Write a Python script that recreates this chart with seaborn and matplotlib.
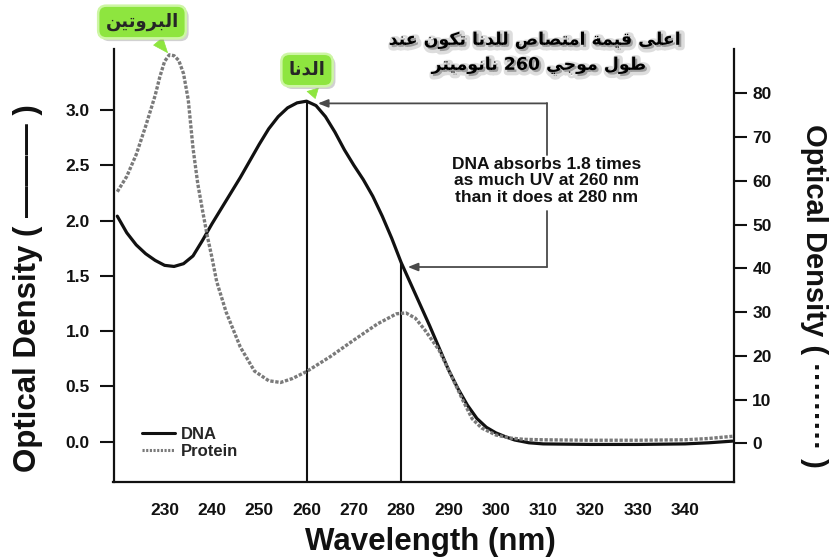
import re
import matplotlib
matplotlib.use("Agg")
import matplotlib.pyplot as plt
import matplotlib.patheffects as pe
from matplotlib.lines import Line2D
import seaborn as sns

# ---- data ---------------------------------------------------------------
dna_wavelength = [220, 222, 224, 226, 228, 230, 232, 234, 236, 238, 240, 242,
                  244, 246, 248, 250, 252, 254, 256, 258, 260, 262, 264, 266,
                  268, 270, 272, 274, 276, 278, 280, 282, 284, 286, 288, 290,
                  292, 294, 296, 298, 300, 302, 304, 307, 310, 320, 330, 340,
                  345, 350]
dna_od = [2.04, 1.89, 1.78, 1.70, 1.64, 1.595, 1.585, 1.61, 1.68, 1.82, 1.97, 2.11,
          2.25, 2.39, 2.54, 2.69, 2.83, 2.94, 3.02, 3.065, 3.08, 3.04, 2.94, 2.80,
          2.64, 2.50, 2.37, 2.22, 2.04, 1.84, 1.62, 1.43, 1.24, 1.05, 0.85, 0.65,
          0.48, 0.33, 0.21, 0.13, 0.08, 0.045, 0.015, -0.01, -0.02, -0.025, -0.025, -0.02,
          -0.01, 0.005]

protein_wavelength = [220, 222, 224, 226, 228, 229, 230, 231, 232, 233, 234, 235,
                      236, 237, 238, 239, 240, 241, 243, 246, 249, 252, 254.5, 257,
                      260, 265, 270, 275, 279, 281, 283, 285, 288, 290, 293, 295,
                      297, 300, 303, 306, 310, 320, 330, 340, 345, 350]
protein_od = [57.5, 61.0, 66.0, 72.5, 79.5, 83.8, 87.3, 88.8, 88.6, 87.5, 84.5, 78.5,
              67.5, 59.4, 53.3, 47.5, 42.5, 37.0, 30.0, 22.0, 16.5, 14.3, 13.9, 14.8,
              16.4, 19.8, 23.6, 27.3, 29.6, 29.8, 28.6, 25.9, 21.3, 16.8, 9.9, 5.6,
              3.5, 1.9, 1.2, 0.9, 0.8, 0.7, 0.7, 0.8, 1.1, 1.6]

x_ticks = [230, 240, 250, 260, 270, 280, 290, 300, 310, 320, 330, 340]
left_ticks = [0.0, 0.5, 1.0, 1.5, 2.0, 2.5, 3.0]
right_ticks = [0, 10, 20, 30, 40, 50, 60, 70, 80]
marked_wavelengths = [260, 280]

note_text = "DNA absorbs 1.8 times\nas much UV at 260 nm\nthan it does at 280 nm"
title_lines = ["اعلى قيمة امتصاص للدنا تكون عند", "طول موجي 260 نانوميتر"]
protein_tag = "البروتين"
dna_tag = "الدنا"

# ---- minimal Arabic shaping (presentation forms + visual order) --------
# letter: (isolated, final, initial, medial); None = letter does not join forward
FORMS = {
    "ا": (0xFE8D, 0xFE8E, None, None), "ب": (0xFE8F, 0xFE90, 0xFE91, 0xFE92),
    "ة": (0xFE93, 0xFE94, None, None), "ت": (0xFE95, 0xFE96, 0xFE97, 0xFE98),
    "ج": (0xFE9D, 0xFE9E, 0xFE9F, 0xFEA0), "د": (0xFEA9, 0xFEAA, None, None),
    "ر": (0xFEAD, 0xFEAE, None, None), "ص": (0xFEB9, 0xFEBA, 0xFEBB, 0xFEBC),
    "ط": (0xFEC1, 0xFEC2, 0xFEC3, 0xFEC4), "ع": (0xFEC9, 0xFECA, 0xFECB, 0xFECC),
    "ق": (0xFED5, 0xFED6, 0xFED7, 0xFED8), "ك": (0xFED9, 0xFEDA, 0xFEDB, 0xFEDC),
    "ل": (0xFEDD, 0xFEDE, 0xFEDF, 0xFEE0), "م": (0xFEE1, 0xFEE2, 0xFEE3, 0xFEE4),
    "ن": (0xFEE5, 0xFEE6, 0xFEE7, 0xFEE8), "و": (0xFEED, 0xFEEE, None, None),
    "ى": (0xFEEF, 0xFEF0, None, None), "ي": (0xFEF1, 0xFEF2, 0xFEF3, 0xFEF4),
}


def shape_arabic(text):
    out = []
    for i, ch in enumerate(text):
        if ch not in FORMS:
            out.append(ch)
            continue
        prev = text[i - 1] if i > 0 else ""
        nxt = text[i + 1] if i + 1 < len(text) else ""
        join_prev = prev in FORMS and FORMS[prev][2] is not None
        join_next = FORMS[ch][2] is not None and nxt in FORMS
        iso, fin, ini, med = FORMS[ch]
        if join_prev and join_next:
            code = med
        elif join_prev:
            code = fin
        elif join_next:
            code = ini
        else:
            code = iso
        out.append(chr(code))
    visual = "".join(out)[::-1]
    # numbers keep their left-to-right order inside right-to-left text
    return re.sub(r"[0-9]+", lambda m: m.group(0)[::-1], visual)


# ---- style ----------------------------------------------------------------
sns.set_theme(style="white")
plt.rcParams["font.family"] = ["Liberation Sans", "DejaVu Sans"]
plt.rcParams["font.weight"] = "bold"
plt.rcParams["axes.labelweight"] = "bold"

W, H = 830, 560
fig = plt.figure(figsize=(W / 100, H / 100), dpi=100)
left, right, top, bottom = 113.5, 734.3, 49.0, 481.7
ax = fig.add_axes([left / W, 1 - bottom / H, (right - left) / W, (bottom - top) / H])
ax2 = ax.twinx()

ink = "#111111"
protein_color = "#7a7a7a"
protein_ls = (0, (1.0, 0.5))

sns.lineplot(x=dna_wavelength, y=dna_od, ax=ax, color=ink, lw=2.3, legend=False)
sns.lineplot(x=protein_wavelength, y=protein_od, ax=ax2, color=protein_color,
             lw=2.4, linestyle=protein_ls, legend=False)

ax.set_xlim(219.2, 350.4)
ax.set_ylim(-0.362, 3.552)
ax2.set_ylim(-8.78, 90.13)

ax.set_xticks(x_ticks)
ax.set_xticklabels([str(t) for t in x_ticks])
ax.set_yticks(left_ticks)
ax.set_yticklabels([f"{t:.1f}" for t in left_ticks])
ax2.set_yticks(right_ticks)
ax2.set_yticklabels([str(t) for t in right_ticks])

for a in (ax, ax2):
    for s in a.spines.values():
        s.set_visible(False)
        s.set_linewidth(1.6)
        s.set_color(ink)
ax.spines["left"].set_visible(True)
ax.spines["bottom"].set_visible(True)
ax2.spines["right"].set_visible(True)

ax.tick_params(axis="x", direction="out", length=10, width=1.5, pad=5,
               labelsize=12.5, colors=ink)
ax.tick_params(axis="y", direction="out", length=10, width=1.5, pad=7,
               labelsize=12.5, colors=ink)
ax2.tick_params(axis="y", direction="out", length=9.5, width=1.5, pad=3.5,
                labelsize=12.5, colors=ink)
for lab in ax.get_xticklabels() + ax.get_yticklabels() + ax2.get_yticklabels():
    lab.set_fontweight("bold")

# ---- axis titles ------------------------------------------------------------
ax.set_xlabel("Wavelength (nm)", fontsize=22.5, fontweight="bold", color=ink)
ax.xaxis.set_label_coords((430 - left) / (right - left), (bottom - 527) / (bottom - top))
ax.xaxis.label.set_va("top")

ax.set_ylabel("Optical Density ( ——— )", fontsize=22.5, fontweight="bold", color=ink)
ax.yaxis.set_label_coords((43 - left) / (right - left), (bottom - 288) / (bottom - top))

ax2.set_ylabel("Optical Density ( ········· )", fontsize=21, fontweight="bold",
               color=ink, rotation=-90)
ax2.yaxis.label.set_va("bottom")
ax2.yaxis.set_label_coords((800 - left) / (right - left), (bottom - 296) / (bottom - top))

# ---- vertical markers at 260 and 280 nm --------------------------------------
for wl in marked_wavelengths:
    yv = dna_od[dna_wavelength.index(wl)]
    ax.vlines(wl, ax.get_ylim()[0], yv, color=ink, lw=1.5, zorder=1)

# ---- bracket annotation ---------------------------------------------------------
bx = 310.8
y260 = dna_od[dna_wavelength.index(260)] - 0.02
y280 = dna_od[dna_wavelength.index(280)] - 0.04
line_kw = dict(color="#4a4a4a", lw=1.3)
arrow_kw = dict(arrowstyle="-|>,head_length=0.5,head_width=0.2", color="#4a4a4a",
                lw=1.3, shrinkA=0, shrinkB=0)
ax.plot([bx, bx], [y260, 2.59], **line_kw)
ax.plot([bx, bx], [2.09, y280], **line_kw)
ax.annotate("", xy=(262.4, y260), xytext=(bx, y260), arrowprops=arrow_kw)
ax.annotate("", xy=(281.4, y280), xytext=(bx, y280), arrowprops=arrow_kw)
ax.text(bx, 2.36, note_text, ha="center", va="center", fontsize=12.5,
        fontweight="bold", color=ink, linespacing=1.12)

# ---- legend ------------------------------------------------------------------
handles = [Line2D([], [], color=ink, lw=2.2),
           Line2D([], [], color=protein_color, lw=2.2, linestyle=(0, (0.7, 0.5)))]
leg = ax.legend(handles, ["DNA", "Protein"], loc="center left",
                bbox_to_anchor=((142 - left) / (right - left), (bottom - 443) / (bottom - top)),
                frameon=False, fontsize=12, handlelength=2.0, handletextpad=0.35,
                labelspacing=0.12, borderpad=0, borderaxespad=0)
for t in leg.get_texts():
    t.set_fontweight("bold")

# ---- Arabic heading with soft shadow ------------------------------------------
glow = [pe.Stroke(linewidth=5, foreground="#b5b5b5", alpha=0.45, offset=(1.5, -1.5)),
        pe.Normal()]
fig.text(535 / W, 1 - 40 / H, shape_arabic(title_lines[0]), ha="center", va="center",
         fontsize=12.5, fontweight="bold", family=["DejaVu Sans"], color="black",
         path_effects=glow)
fig.text(539 / W, 1 - 65 / H, shape_arabic(title_lines[1]), ha="center", va="center",
         fontsize=12.5, fontweight="bold", family=["DejaVu Sans"], color="black",
         path_effects=glow)

# ---- green call-out tags -------------------------------------------------------
green = "#8EE53F"
tag_box = dict(boxstyle="round,pad=0.4,rounding_size=0.45", fc=green, ec="#CDF6A4", lw=1.8)
pointer = dict(arrowstyle="wedge,tail_width=0.65,shrink_factor=0.5", fc=green, ec=green,
               lw=0.5)

p_idx = protein_od.index(max(protein_od))
t1 = ax2.annotate(shape_arabic(protein_tag), xy=(protein_wavelength[p_idx], protein_od[p_idx]),
                  xycoords="data", xytext=(142 / W, 1 - 22 / H), textcoords="figure fraction",
                  ha="center", va="center", fontsize=13, fontweight="bold",
                  family=["DejaVu Sans"], bbox=tag_box, arrowprops=pointer,
                  annotation_clip=False)
d_peak = max(dna_od)
t2 = ax.annotate(shape_arabic(dna_tag), xy=(262.0, d_peak), xycoords="data",
                 xytext=(307 / W, 1 - 70 / H), textcoords="figure fraction",
                 ha="center", va="center", fontsize=13, fontweight="bold",
                 family=["DejaVu Sans"], bbox=tag_box, arrowprops=pointer,
                 annotation_clip=False, zorder=5)
for t in (t1, t2):
    t.get_bbox_patch().set_path_effects(
        [pe.SimplePatchShadow(offset=(2, -2), shadow_rgbFace="#9a9a9a", alpha=0.45),
         pe.Normal()])

fig.savefig("out.png", dpi=100)
